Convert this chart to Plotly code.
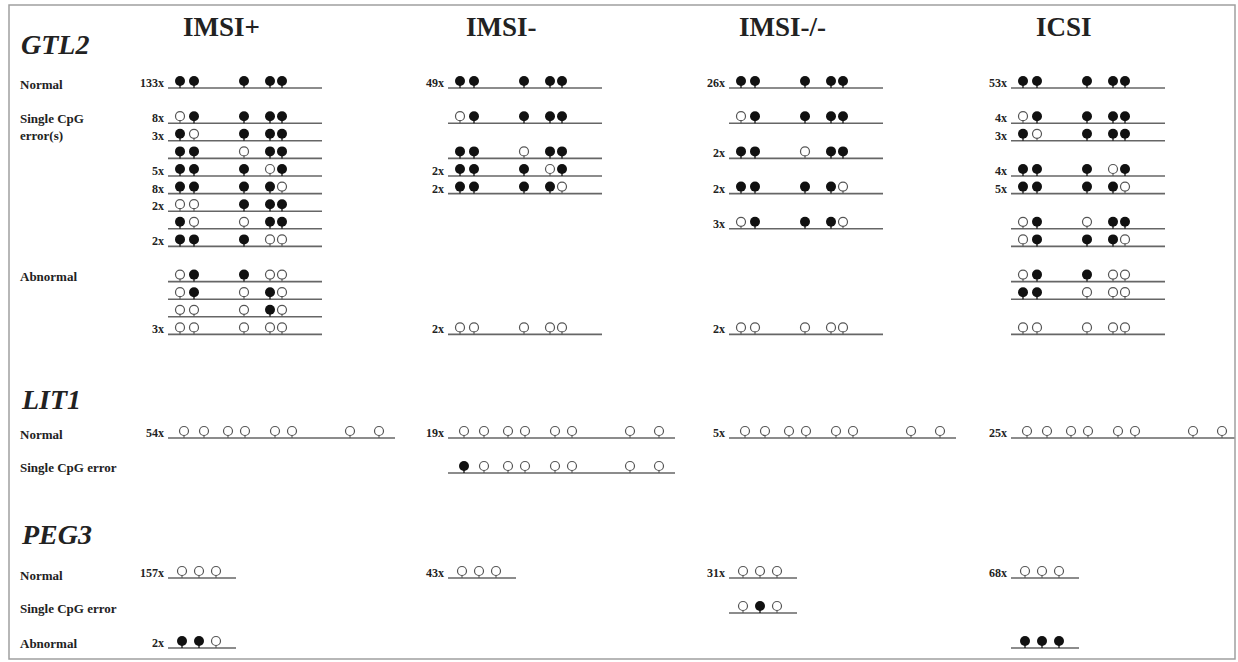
import plotly.graph_objects as go

W, H = 1238, 662

groups = ["IMSI+", "IMSI-", "IMSI-/-", "ICSI"]

# Methylation patterns per CpG site (1 = methylated, 0 = unmethylated); None = empty row
gtl2_patterns = {
    "IMSI+": ["11111", None, "01111", "10111", "11011", "11101", "11110", "00111", "10011", "11100",
              None, "01100", "01010", "00010", "00000"],
    "IMSI-": ["11111", None, "01111", None, "11011", "11101", "11110", None, None, None,
              None, None, None, None, "00000"],
    "IMSI-/-": ["11111", None, "01111", None, "11011", None, "11110", None, "01110", None,
                None, None, None, None, "00000"],
    "ICSI": ["11111", None, "01111", "10111", None, "11101", "11110", None, "01011", "01110",
             None, "01100", "11000", None, "00000"],
}
gtl2_counts = {
    "IMSI+": ["133x", None, "8x", "3x", "", "5x", "8x", "2x", "", "2x", None, "", "", "", "3x"],
    "IMSI-": ["49x", None, "", None, "", "2x", "2x", None, None, None, None, None, None, None, "2x"],
    "IMSI-/-": ["26x", None, "", None, "2x", None, "2x", None, "3x", None, None, None, None, None, "2x"],
    "ICSI": ["53x", None, "4x", "3x", None, "4x", "5x", None, "", "", None, "", "", None, ""],
}

lit1_patterns = {
    "IMSI+": ["00000000", None],
    "IMSI-": ["00000000", "10000000"],
    "IMSI-/-": ["00000000", None],
    "ICSI": ["00000000", None],
}
lit1_counts = {
    "IMSI+": ["54x", None],
    "IMSI-": ["19x", ""],
    "IMSI-/-": ["5x", None],
    "ICSI": ["25x", None],
}

peg3_patterns = {
    "IMSI+": ["000", None, "110"],
    "IMSI-": ["000", None, None],
    "IMSI-/-": ["000", "010", None],
    "ICSI": ["000", None, "111"],
}
peg3_counts = {
    "IMSI+": ["157x", None, "2x"],
    "IMSI-": ["43x", None, None],
    "IMSI-/-": ["31x", "", None],
    "ICSI": ["68x", None, ""],
}

# relative CpG site spacing within each amplicon (drawing units)
gtl2_sites = [12, 26, 76, 102, 114]
lit1_sites = [16, 36, 60, 77, 107, 124, 182, 211]
peg3_sites = [14, 31, 48]

# ---- layout constants ----
col_x0 = {"IMSI+": 168, "IMSI-": 448, "IMSI-/-": 729, "ICSI": 1011}
SERIF = "Liberation Serif, Times New Roman, serif"
LINE_COL = "#666666"
OPEN_COL = "#555555"
R_OFF = 7  # circle centre height above the strand line

blocks = [
    # patterns, counts, sites, strand length, first row y, row step
    (gtl2_patterns, gtl2_counts, gtl2_sites, 154, 88, 17.6),
    (lit1_patterns, lit1_counts, lit1_sites, 227, 438, 35),
    (peg3_patterns, peg3_counts, peg3_sites, 68, 578, 35),
]

lx, ly = [], []
sfx, sfy, sox, soy = [], [], [], []
fx, fy, ox, oy = [], [], [], []
annotations = []

for patterns, counts, sites, length, y0, step in blocks:
    for g in groups:
        x0 = col_x0[g]
        for i, pat in enumerate(patterns[g]):
            if pat is None:
                continue
            yl = y0 + i * step
            lx += [x0, x0 + length, None]
            ly += [yl, yl, None]
            yc = yl - R_OFF
            for s, m in zip(sites, pat):
                xc = x0 + s
                if m == "1":
                    sfx += [xc, xc, None]; sfy += [yc, yl, None]
                    fx.append(xc); fy.append(yc)
                else:
                    sox += [xc, xc, None]; soy += [yc, yl, None]
                    ox.append(xc); oy.append(yc)
            label = counts[g][i]
            if label:
                annotations.append(dict(
                    x=x0 - 2, y=yl - 5, text=f"<b>{label}</b>", xanchor="right", yanchor="middle",
                    showarrow=False, font=dict(family=SERIF, size=12, color="#222")))

fig = go.Figure()
fig.add_trace(go.Scatter(x=lx, y=ly, mode="lines", line=dict(color=LINE_COL, width=1.6),
                         hoverinfo="skip", showlegend=False))
fig.add_trace(go.Scatter(x=sox, y=soy, mode="lines", line=dict(color=OPEN_COL, width=1.1),
                         hoverinfo="skip", showlegend=False))
fig.add_trace(go.Scatter(x=sfx, y=sfy, mode="lines", line=dict(color="#111", width=1.3),
                         hoverinfo="skip", showlegend=False))
fig.add_trace(go.Scatter(x=ox, y=oy, mode="markers",
                         marker=dict(size=9, color="white", line=dict(color=OPEN_COL, width=1.2)),
                         name="unmethylated", showlegend=False))
fig.add_trace(go.Scatter(x=fx, y=fy, mode="markers",
                         marker=dict(size=10, color="#111", line=dict(color="#111", width=0)),
                         name="methylated", showlegend=False))

# column headers
for g in groups:
    annotations.append(dict(x=col_x0[g] + 53, y=27, text=f"<b>{g}</b>", showarrow=False,
                            xanchor="center", yanchor="middle",
                            font=dict(family=SERIF, size=27, color="#222")))

# gene names
for name, y in [("GTL2", 44), ("LIT1", 399), ("PEG3", 534)]:
    annotations.append(dict(x=19, y=y, text=f"<b><i>{name}</i></b>", showarrow=False,
                            xanchor="left", yanchor="middle",
                            font=dict(family=SERIF, size=28, color="#222")))

# row class labels
row_labels = [
    ("Normal", 84), ("Single CpG<br>error(s)", 127), ("Abnormal", 276),
    ("Normal", 434), ("Single CpG error", 467),
    ("Normal", 575), ("Single CpG error", 608), ("Abnormal", 643),
]
for text, y in row_labels:
    annotations.append(dict(x=18, y=y, text=f"<b>{text}</b>", showarrow=False,
                            xanchor="left", yanchor="middle", align="left",
                            font=dict(family=SERIF, size=13, color="#222")))

fig.update_layout(
    width=W, height=H,
    margin=dict(l=0, r=0, t=0, b=0),
    paper_bgcolor="white", plot_bgcolor="white",
    xaxis=dict(range=[0, W], visible=False, fixedrange=True),
    yaxis=dict(range=[H, 0], visible=False, fixedrange=True),
    annotations=annotations,
    shapes=[
        # mask beyond the frame so strands end at the border
        dict(type="rect", xref="x", yref="y", x0=1235, y0=0, x1=W, y1=H,
             line=dict(width=0), fillcolor="white", layer="above"),
        dict(type="rect", xref="x", yref="y", x0=9, y0=5, x1=1235, y1=659,
             line=dict(color="#a0a0a0", width=1.5), fillcolor="rgba(0,0,0,0)", layer="above"),
    ],
)

fig.write_html("out.html")
